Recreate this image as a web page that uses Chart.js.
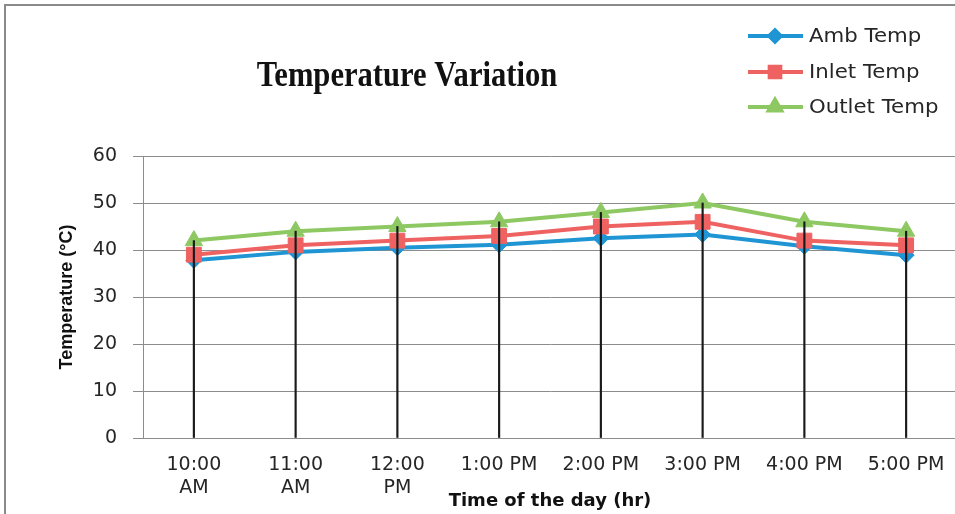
<!DOCTYPE html>
<html>
<head>
<meta charset="utf-8">
<script src="https://cdn.jsdelivr.net/npm/chart.js@4.4.1/dist/chart.umd.min.js"></script>
<style>
  html, body { margin: 0; padding: 0; background: #ffffff; overflow: hidden; }
  #wrap { position: relative; width: 958px; height: 514px; }
  #frame { position: absolute; left: 4px; top: 4px; width: 980px; height: 540px;
           border-left: 2px solid #8a8a8a; border-top: 2px solid #8a8a8a; pointer-events: none; }
</style>
</head>
<body>
<div id="wrap">
  <canvas id="c" width="958" height="514"></canvas>
  <div id="frame"></div>
</div>
<script>
// ---- data ----
const categories = [["10:00", "AM"], ["11:00", "AM"], ["12:00", "PM"], "1:00 PM", "2:00 PM", "3:00 PM", "4:00 PM", "5:00 PM"];
const ambTemp    = [37.8, 39.6, 40.5, 41.1, 42.5, 43.3, 40.8, 38.9];
const inletTemp  = [39, 41, 42, 43, 45, 46, 42, 41];
const outletTemp = [42, 44, 45, 46, 48, 50, 46, 44];
const yTicks     = [0, 10, 20, 30, 40, 50, 60];
const chartTitle = "Temperature Variation";
const xTitle     = "Time of the day (hr)";
const yTitle     = "Temperature (\u00B0C)";

const BLUE = '#1f95d3', RED = '#ef6262', GREEN = '#8dc862';

const titlePlugin = {
  id: 'customTitle',
  afterDraw(chart) {
    const ctx = chart.ctx;
    ctx.save();
    ctx.font = 'bold 34px "Liberation Serif", "Times New Roman", serif';
    ctx.fillStyle = '#111111';
    ctx.textAlign = 'center';
    ctx.textBaseline = 'alphabetic';
    ctx.translate(407, 86);
    ctx.scale(0.9, 1.03);
    ctx.fillText(chartTitle, 0, 0);
    ctx.restore();
  }
};

const legendPlugin = {
  id: 'customLegend',
  afterDraw(chart) {
    const ctx = chart.ctx;
    const items = chart.data.datasets.filter(d => d.type === 'line');
    const ys = [36, 72, 107];
    items.forEach((ds, i) => {
      const y = ys[i];
      ctx.save();
      ctx.strokeStyle = ds.borderColor;
      ctx.lineWidth = 4;
      ctx.beginPath();
      ctx.moveTo(748, y);
      ctx.lineTo(803, y);
      ctx.stroke();
      Chart.helpers.drawPoint(ctx, {
        pointStyle: ds.pointStyle,
        radius: ds.pointRadius * 0.72,
        borderWidth: 1
      }, 775, y);
      ctx.fillStyle = ds.backgroundColor;
      ctx.fill();
      ctx.font = '19px "DejaVu Sans", sans-serif';
      ctx.fillStyle = '#262626';
      ctx.textAlign = 'left';
      ctx.textBaseline = 'middle';
      ctx.translate(809, y + 1);
      ctx.scale(1.12, 1);
      ctx.fillText(ds.label, 0, 0);
      ctx.restore();
    });
  }
};

const GRID = '#8c8c8c';
new Chart(document.getElementById('c'), {
  data: {
    labels: categories,
    datasets: [
      { type: 'bar', label: 'drop', data: outletTemp, backgroundColor: '#1a1a1a',
        barThickness: 1.5, order: 0 },
      { type: 'line', label: 'Amb Temp', data: ambTemp, borderColor: BLUE, backgroundColor: BLUE,
        borderWidth: 4, pointStyle: 'rectRot', pointRadius: 8, pointBorderWidth: 1,
        pointBackgroundColor: BLUE, pointBorderColor: BLUE, order: 3, tension: 0 },
      { type: 'line', label: 'Inlet Temp', data: inletTemp, borderColor: RED, backgroundColor: RED,
        borderWidth: 4, pointStyle: 'rect', pointRadius: 10.5, pointBorderWidth: 1,
        pointBackgroundColor: RED, pointBorderColor: RED, order: 2, tension: 0 },
      { type: 'line', label: 'Outlet Temp', data: outletTemp, borderColor: GREEN, backgroundColor: GREEN,
        borderWidth: 4, pointStyle: 'triangle', pointRadius: 10, pointBorderWidth: 1,
        pointBackgroundColor: GREEN, pointBorderColor: GREEN, order: 1, tension: 0 }
    ]
  },
  options: {
    responsive: false,
    animation: false,
    events: [],
    layout: { autoPadding: false, padding: { top: 156, right: 1, bottom: 0, left: 0 } },
    plugins: {
      legend: { display: false },
      tooltip: { enabled: false },
      title: { display: false }
    },
    scales: {
      x: {
        type: 'category',
        offset: true,
        grid: { display: false, drawTicks: false },
        border: { display: true, color: GRID, width: 1 },
        ticks: {
          color: '#262626', padding: 16, maxRotation: 0, autoSkip: false,
          font: { family: '"DejaVu Sans", sans-serif', size: 19, lineHeight: 1.2 }
        },
        title: {
          display: true, text: xTitle, color: '#111111',
          font: { family: '"DejaVu Sans", sans-serif', size: 18, weight: 'bold', lineHeight: 1.2 },
          padding: { top: 0, bottom: 2 }
        },
        afterFit(scale) { scale.height = 76; scale.paddingLeft = 0; scale.paddingRight = 0; }
      },
      y: {
        min: 0, max: 60,
        afterBuildTicks(scale) { scale.ticks = yTicks.map(v => ({ value: v })); },
        grid: { color: GRID, lineWidth: 1, tickLength: 10, tickColor: GRID, drawTicks: true },
        border: { display: true, color: GRID, width: 1 },
        ticks: {
          color: '#262626', padding: 16,
          font: { family: '"DejaVu Sans", sans-serif', size: 19 }
        },
        title: {
          display: true, text: yTitle, color: '#111111',
          font: { family: '"Liberation Sans", Arial, sans-serif', size: 18, weight: 'bold', lineHeight: 1.2 },
          padding: { top: 56, bottom: 0 }
        },
        afterFit(scale) { scale.width = 143; scale.paddingTop = 0; scale.paddingBottom = 0; }
      }
    }
  },
  plugins: [titlePlugin, legendPlugin]
});
</script>
</body>
</html>
